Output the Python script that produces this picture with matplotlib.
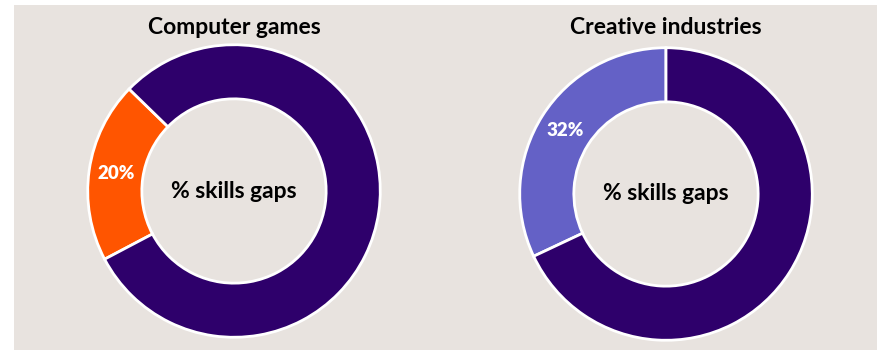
import matplotlib.pyplot as plt
from matplotlib.patches import Rectangle

plt.rcParams['font.family'] = ['Lato', 'DejaVu Sans']

titles = ['Computer games', 'Creative industries']
gap_share = [20, 32]
rest_share = [80, 68]
gap_colors = ['#ff5500', '#6461c6']
dark = '#2e006b'
start_angles = [135.8, 90]
centre_text = '% skills gaps'

W, H = 886, 350
fig = plt.figure(figsize=(W / 100, H / 100), dpi=100)
fig.patches.append(Rectangle((14 / W, 0), (877 - 14) / W, (H - 5) / H,
                             transform=fig.transFigure, facecolor='#e8e3df',
                             edgecolor='none', zorder=-5))

# donut centres / radius in pixels
centres = [(234, 191), (666, 194)]
r = 147

for i in range(2):
    cx, cy = centres[i]
    ax = fig.add_axes([(cx - r) / W, (H - cy - r) / H, 2 * r / W, 2 * r / H])
    ax.set_zorder(2)
    ax.set_facecolor('none')
    wedges, texts, autotexts = ax.pie(
        [gap_share[i], rest_share[i]], colors=[gap_colors[i], dark],
        startangle=start_angles[i], counterclock=True,
        autopct=lambda p: '%d%%' % round(p) if p < 50 else '',
        pctdistance=0.815,
        wedgeprops=dict(width=0.37, edgecolor='white', linewidth=2))
    for t in autotexts:
        t.set_color('white')
        t.set_fontsize(13.5)
        t.set_fontweight('heavy')
    ax.set_xlim(-1.005, 1.005)
    ax.set_ylim(-1.005, 1.005)
    ax.set_aspect('equal')
    ax.text(0, 0, centre_text, ha='center', va='center', fontsize=16.5,
            fontweight='bold', color='black')
    fig.text(cx / W, 1 - 27 / H, titles[i], ha='center', va='center',
             fontsize=16.5, fontweight='bold', color='black')

fig.savefig('out.png', dpi=100)
